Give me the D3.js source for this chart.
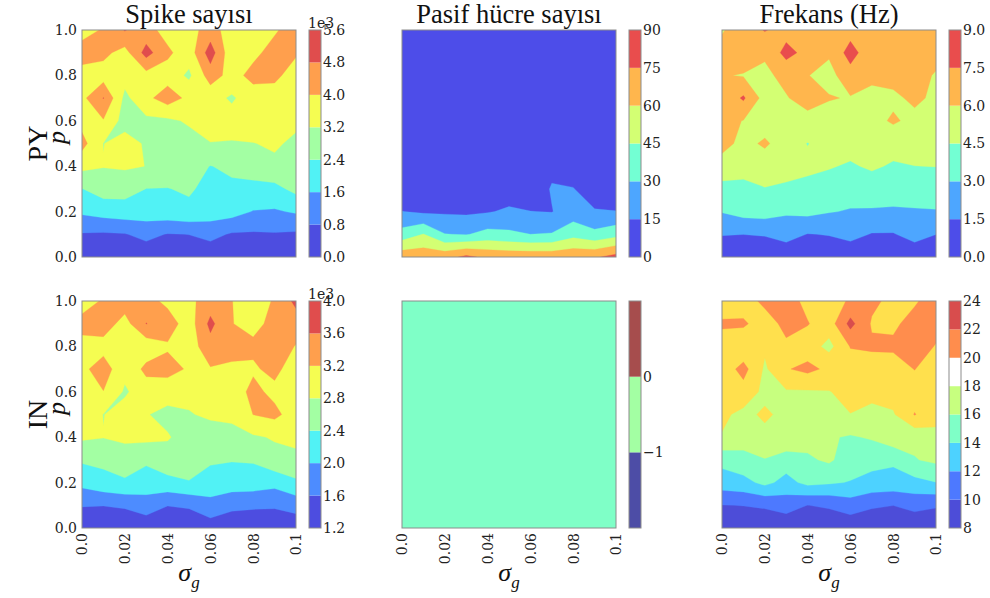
<!DOCTYPE html>
<html><head><meta charset="utf-8">
<script src="https://cdn.jsdelivr.net/npm/d3@7"></script>
<style>body{margin:0;background:#fff;} svg{display:block;}</style>
</head><body>
<svg id="chart" width="990" height="598"></svg>
<script>
// ---------- data (rows listed from p = 1.0 at top down to p = 0.0) ----------
const sigmaValues = [0, 0.01, 0.02, 0.03, 0.04, 0.05, 0.06, 0.07, 0.08, 0.09, 0.1];
const pValues = [0, 0.1, 0.2, 0.3, 0.4, 0.5, 0.6, 0.7, 0.8, 0.9, 1.0];

const pySpikes = [
  [3800, 4050, 4850, 4300, 3700, 3700, 4350, 3600, 3700, 3900, 4400],
  [4235, 4200, 3700, 5100, 4150, 3556, 5200, 3409, 3800, 4300, 4050],
  [3790, 3640, 3500, 3725, 3650, 3050, 4380, 3700, 4250, 4100, 3800],
  [3790, 4830, 3000, 3800, 4400, 3800, 3470, 3100, 3600, 3800, 3700],
  [3716, 3940, 2870, 3030, 3050, 3300, 3500, 3500, 3600, 3550, 3350],
  [4273, 3180, 3535, 3100, 2950, 2900, 3180, 3150, 3180, 3300, 3050],
  [3418, 3230, 3303, 3190, 2800, 2700, 2380, 2550, 2560, 3050, 2900],
  [2380, 2752, 2696, 2390, 2380, 2483, 2200, 2250, 2300, 2160, 2627],
  [1740, 1933, 2052, 2016, 2115, 2246, 2016, 1925, 1560, 1520, 1680],
  [740, 700, 760, 1025, 760, 810, 1025, 720, 700, 740, 680],
  [300, 300, 300, 300, 300, 300, 300, 300, 300, 300, 300]
];
const pyPassive = [
  [2, 3, 2, 2, 3, 2, 3, 3, 2, 2, 3],
  [3, 2, 2, 3, 2, 3, 2, 2, 3, 2, 2],
  [2, 2, 3, 2, 2, 2, 3, 2, 2, 3, 2],
  [3, 2, 2, 2, 3, 2, 2, 3, 2, 2, 3],
  [2, 3, 2, 3, 2, 3, 3, 2, 3, 2, 2],
  [3, 2, 3, 2, 3, 3, 4, 5, 4, 3, 3],
  [3, 3, 3, 3, 4, 4, 5, 12, 8, 5, 4],
  [5, 4, 4, 4, 5, 8, 7, 16, 15.5, 8, 6],
  [15.3, 12.5, 13, 12.5, 14, 17, 15.2, 14.5, 22, 16, 15.3],
  [36, 45.5, 30.5, 29, 35, 33, 30, 31, 40, 34, 40],
  [70, 70, 70, 78, 72, 70, 70, 70, 72, 73, 80]
];
const pyFreq = [
  [5.9, 6.6, 7.6, 6.9, 6.5, 6.1, 6.9, 6.6, 6.5, 6.6, 6.8],
  [6.4, 6.9, 6.2, 8.0, 7.0, 6.2, 8.1, 6.5, 6.4, 6.6, 6.4],
  [6.1, 5.9, 5.7, 6.4, 6.05, 5.5, 6.9, 6.3, 6.5, 6.4, 5.9],
  [6.4, 7.7, 5.4, 5.9, 6.6, 6.1, 5.9, 5.6, 5.7, 6.3, 5.7],
  [6.5, 5.95, 5.2, 5.3, 5.5, 5.3, 5.4, 5.5, 6.2, 5.6, 5.7],
  [6.6, 5.5, 6.25, 5.2, 4.45, 5.1, 5.0, 5.2, 5.0, 5.1, 5.0],
  [5.24, 4.91, 5.1, 5.2, 4.88, 4.6, 4.35, 4.69, 4.35, 4.49, 4.52],
  [4.1, 4.2, 4.45, 4.2, 4.0, 3.9, 3.6, 3.8, 3.7, 3.8, 3.9],
  [3.075, 3.55, 3.66, 3.19, 3.39, 3.075, 2.9, 2.85, 2.8, 2.85, 2.9],
  [1.567, 1.51, 1.6, 2.07, 1.45, 1.567, 1.97, 1.42, 1.4, 2.07, 1.51],
  [0.45, 0.45, 0.45, 0.45, 0.45, 0.45, 0.45, 0.45, 0.45, 0.45, 0.45]
];
const inSpikes = [
  [3000, 3250, 3400, 3350, 3100, 3100, 3400, 3210, 2950, 3250, 3700],
  [3350, 3400, 3050, 3610, 3400, 3000, 3700, 3210, 3100, 3300, 3400],
  [3050, 3050, 3000, 2950, 3150, 3000, 3450, 3400, 3270, 3400, 3180],
  [3100, 3400, 2900, 3300, 3350, 3150, 3170, 3100, 3150, 3300, 3000],
  [3050, 3190, 2750, 3000, 2950, 2880, 2950, 3000, 3300, 3100, 3000],
  [3100, 2790, 2950, 2820, 2700, 2780, 2850, 2893, 3205, 3300, 3000],
  [2861, 2810, 2926, 2900, 2830, 2650, 2650, 2660, 2750, 2833, 2900],
  [2453, 2489, 2475, 2460, 2650, 2490, 2482, 2418, 2436, 2675, 2700],
  [2120, 2272, 2380, 2230, 2272, 2390, 2140, 2217, 2211, 2125, 2334],
  [1619, 1608, 1644, 1796, 1608, 1644, 1918, 1688, 1655, 1644, 1747],
  [1350, 1350, 1350, 1350, 1350, 1350, 1350, 1350, 1350, 1350, 1350]
];
const inPassive = [
  [0,0,0,0,0,0,0,0,0,0,0],[0,0,0,0,0,0,0,0,0,0,0],[0,0,0,0,0,0,0,0,0,0,0],
  [0,0,0,0,0,0,0,0,0,0,0],[0,0,0,0,0,0,0,0,0,0,0],[0,0,0,0,0,0,0,0,0,0,0],
  [0,0,0,0,0,0,0,0,0,0,0],[0,0,0,0,0,0,0,0,0,0,0],[0,0,0,0,0,0,0,0,0,0,0],
  [0,0,0,0,0,0,0,0,0,0,0],[0,0,0,0,0,0,0,0,0,0,0]
];
const inFreq = [
  [18.4, 19.0, 20.5, 20.8, 19.5, 18.9, 20.3, 20.4, 19.5, 19.8, 20.8],
  [20.4, 20.3, 19.0, 20.6, 20.1, 19.0, 22.6, 19.8, 19.7, 20.6, 20.6],
  [18.7, 18.5, 18.3, 19.63, 19.0, 17.4, 20.1, 20.3, 20.3, 20.8, 19.9],
  [18.8, 20.7, 17.7, 19.86, 20.5, 19.6, 19.0, 19.0, 19.2, 20.05, 19.0],
  [19.0, 19.2, 17.5, 17.8, 17.8, 17.9, 18.8, 18.4, 18.8, 19.0, 18.9],
  [18.38, 17.5, 18.3, 17.5, 17.3, 17.5, 17.95, 17.6, 17.8, 20.1, 18.6],
  [17.88, 16.85, 17.5, 17.63, 16.7, 16.2, 15.8, 16.2, 17.24, 16.5, 17.5],
  [14.58, 15.36, 15.9, 15.0, 15.7, 16.3, 15.0, 14.62, 14.35, 15.89, 16.4],
  [13.06, 13.36, 14.52, 13.33, 14.55, 14.23, 13.9, 13.38, 13.23, 13.37, 13.95],
  [9.95, 10.04, 10.25, 10.82, 9.98, 10.25, 11.0, 10.25, 10.02, 10.57, 10.19],
  [8.6, 8.6, 8.6, 8.6, 8.6, 8.6, 8.6, 8.6, 8.6, 8.6, 8.6]
];

// contour levels and colorbar tick labels
const pySpikeLevels = [0, 800, 1600, 2400, 3200, 4000, 4800, 5600];
const pySpikeTicks = ["0.0", "0.8", "1.6", "2.4", "3.2", "4.0", "4.8", "5.6"];
const pyPassiveLevels = [0, 15, 30, 45, 60, 75, 90];
const pyPassiveTicks = ["0", "15", "30", "45", "60", "75", "90"];
const pyFreqLevels = [0, 1.5, 3, 4.5, 6, 7.5, 9];
const pyFreqTicks = ["0.0", "1.5", "3.0", "4.5", "6.0", "7.5", "9.0"];
const inSpikeLevels = [1200, 1600, 2000, 2400, 2800, 3200, 3600, 4000];
const inSpikeTicks = ["1.2", "1.6", "2.0", "2.4", "2.8", "3.2", "3.6", "4.0"];
const inPassiveLevels = [-2, -1, 0, 1];
const inPassiveTickValues = [-1, 0];
const inPassiveTicks = ["\u22121", "0"];
const inFreqLevels = [8, 10, 12, 14, 16, 18, 20, 22, 24];
const inFreqTicks = ["8", "10", "12", "14", "16", "18", "20", "22", "24"];

const xTickValues = [0, 0.02, 0.04, 0.06, 0.08, 0.1];
const xTickLabels = ["0.0", "0.02", "0.04", "0.06", "0.08", "0.1"];
const yTickValues = [0, 0.2, 0.4, 0.6, 0.8, 1.0];
const yTickLabels = ["0.0", "0.2", "0.4", "0.6", "0.8", "1.0"];
const colTitles = ["Spike sayısı", "Pasif hücre sayısı", "Frekans (Hz)"];
const rowLabels = ["PY", "IN"];

// ---------- colours: jet colormap at alpha 0.7 over white ----------
const JR = [[0,0],[0.35,0],[0.66,1],[0.89,1],[1,0.5]];
const JG = [[0,0],[0.125,0],[0.375,1],[0.64,1],[0.91,0],[1,0]];
const JB = [[0,0.5],[0.11,1],[0.34,1],[0.65,0],[1,0]];
function chan(pts, t) {
  for (let k = 1; k < pts.length; k++) {
    if (t <= pts[k][0]) {
      const [x0, y0] = pts[k-1], [x1, y1] = pts[k];
      return y0 + (y1 - y0) * (t - x0) / (x1 - x0);
    }
  }
  return pts[pts.length-1][1];
}
function jetA(t) {
  const f = v => Math.round(255 * (0.3 + 0.7 * v));
  return d3.rgb(f(chan(JR, t)), f(chan(JG, t)), f(chan(JB, t))).formatHex();
}
function bandColors(n) { return d3.range(n).map(k => jetA((k + 0.5) / n)); }

// ---------- layout ----------
const svg = d3.select("#chart");
const W = 214, H = 227;
const colX = [82, 402, 722];
const rowY = [30, 301];
const cbGap = 13, cbW = 12;
const tickFont = "DejaVu Serif";
const textFont = "Liberation Serif";

const panels = [
  {r:0, c:0, data:pySpikes, levels:pySpikeLevels, ticks:pySpikeTicks, offset:"1e3"},
  {r:0, c:1, data:pyPassive, levels:pyPassiveLevels, ticks:pyPassiveTicks},
  {r:0, c:2, data:pyFreq, levels:pyFreqLevels, ticks:pyFreqTicks},
  {r:1, c:0, data:inSpikes, levels:inSpikeLevels, ticks:inSpikeTicks, offset:"1e3"},
  {r:1, c:1, data:inPassive, levels:inPassiveLevels, ticks:inPassiveTicks, tickValues:inPassiveTickValues,
   fieldColor:"#7fffc7", cbColors:[jetA(0), jetA(0.5), jetA(1)]},
  {r:1, c:2, data:inFreq, levels:inFreqLevels, ticks:inFreqTicks, whiteBand:5}
];

panels.forEach((P, idx) => {
  const x0 = colX[P.c], y0 = rowY[P.r];
  const xs = d3.scaleLinear().domain([sigmaValues[0], sigmaValues[10]]).range([x0, x0 + W]);
  const ys = d3.scaleLinear().domain([pValues[0], pValues[10]]).range([y0 + H, y0]);
  // grid index (cell-centre coordinates of d3.contours) -> data value
  const gx = d3.scaleLinear().domain([0.5, 10.5]).range([sigmaValues[0], sigmaValues[10]]);
  const gy = d3.scaleLinear().domain([0.5, 10.5]).range([pValues[0], pValues[10]]);
  const nB = P.levels.length - 1;
  const colors = bandColors(nB);

  const flat = [];
  for (let j = 0; j < 11; j++) {
    const row = P.data[10 - j];
    for (let i = 0; i < 11; i++) flat.push(row[i]);
  }
  const thresholds = P.fieldColor ? [P.levels[0]] : P.levels.slice(0, -1);
  const contours = d3.contours().size([11, 11]).thresholds(thresholds)(flat);
  const path = d3.geoPath(d3.geoTransform({
    point(x, y) { this.stream.point(xs(gx(x)), ys(gy(y))); }
  }));

  const clipId = "clip" + idx;
  svg.append("clipPath").attr("id", clipId)
    .append("rect").attr("x", x0).attr("y", y0).attr("width", W).attr("height", H);
  const g = svg.append("g").attr("clip-path", `url(#${clipId})`);
  g.selectAll("path").data(contours).join("path")
    .attr("d", path)
    .attr("fill", (d, k) => P.fieldColor ? P.fieldColor : colors[k])
    .attr("stroke", (d, k) => P.fieldColor ? P.fieldColor : colors[k])
    .attr("stroke-width", 0.3);

  svg.append("rect").attr("x", x0).attr("y", y0).attr("width", W).attr("height", H)
    .attr("fill", "none").attr("stroke", "#8c8c8c").attr("stroke-width", 1);

  // y axis (left column only)
  if (P.c === 0) {
    const ax = svg.append("g").attr("transform", `translate(${x0},0)`)
      .call(d3.axisLeft(ys).tickValues(yTickValues).tickFormat((d, i) => yTickLabels[i]).tickSize(0).tickPadding(5));
    ax.select(".domain").remove();
    ax.selectAll("text").attr("font-family", tickFont).attr("font-size", 14).attr("fill", "#222");
  }
  // x axis (bottom row only)
  if (P.r === 1) {
    const ax = svg.append("g").attr("transform", `translate(0,${y0 + H})`)
      .call(d3.axisBottom(xs).tickValues(xTickValues).tickFormat((d, i) => xTickLabels[i]).tickSize(0));
    ax.select(".domain").remove();
    ax.selectAll("text")
      .attr("font-family", tickFont).attr("font-size", 14).attr("fill", "#222")
      .attr("y", 0).attr("x", -5).attr("dy", "0.35em")
      .attr("transform", "rotate(-90)").style("text-anchor", "end");
    const xl = svg.append("text").attr("x", x0 + W / 2).attr("y", y0 + H + 53)
      .attr("text-anchor", "middle").attr("font-family", textFont).attr("font-style", "italic")
      .attr("font-size", 26).attr("fill", "#111");
    xl.append("tspan").text("σ");
    xl.append("tspan").attr("font-size", 17).attr("dy", 7).text("g");
  }

  // colorbar
  const cx = x0 + W + cbGap;
  const cs = d3.scaleLinear().domain([P.levels[0], P.levels[nB]]).range([y0 + H, y0]);
  const cbCols = P.cbColors ? P.cbColors : colors.map((c, k) => (k === P.whiteBand ? "#ffffff" : c));
  svg.append("g").selectAll("rect").data(d3.range(nB)).join("rect")
    .attr("x", cx).attr("width", cbW)
    .attr("y", k => cs(P.levels[k + 1])).attr("height", k => cs(P.levels[k]) - cs(P.levels[k + 1]))
    .attr("fill", k => cbCols[k]);
  svg.append("rect").attr("x", cx).attr("y", y0).attr("width", cbW).attr("height", H)
    .attr("fill", "none").attr("stroke", "#8c8c8c").attr("stroke-width", 1);
  const tv = P.tickValues ? P.tickValues : P.levels;
  const cax = svg.append("g").attr("transform", `translate(${cx + cbW},0)`)
    .call(d3.axisRight(cs).tickValues(tv).tickFormat((d, i) => P.ticks[i]).tickSize(0).tickPadding(2));
  cax.select(".domain").remove();
  cax.selectAll("text").attr("font-family", tickFont).attr("font-size", 14).attr("fill", "#222");
  if (P.offset) {
    svg.append("text").attr("x", cx - 1).attr("y", y0 - 2)
      .attr("font-family", tickFont).attr("font-size", 14).attr("fill", "#222").text(P.offset);
  }
});

// column titles
colTitles.forEach((t, c) => {
  svg.append("text").attr("x", colX[c] + W / 2).attr("y", 23).attr("text-anchor", "middle")
    .attr("font-family", textFont).attr("font-size", 26.5).attr("fill", "#111").text(t);
});
// row labels and p axis labels
rowLabels.forEach((t, r) => {
  const cy = rowY[r] + H / 2;
  svg.append("text").attr("transform", `translate(47,${cy}) rotate(-90)`).attr("text-anchor", "middle")
    .attr("font-family", textFont).attr("font-size", 28).attr("fill", "#111").text(t);
  svg.append("text").attr("transform", `translate(65,${cy - 6}) rotate(-90)`).attr("text-anchor", "middle")
    .attr("font-family", textFont).attr("font-style", "italic").attr("font-size", 26).attr("fill", "#111").text("p");
});
</script>
</body></html>
